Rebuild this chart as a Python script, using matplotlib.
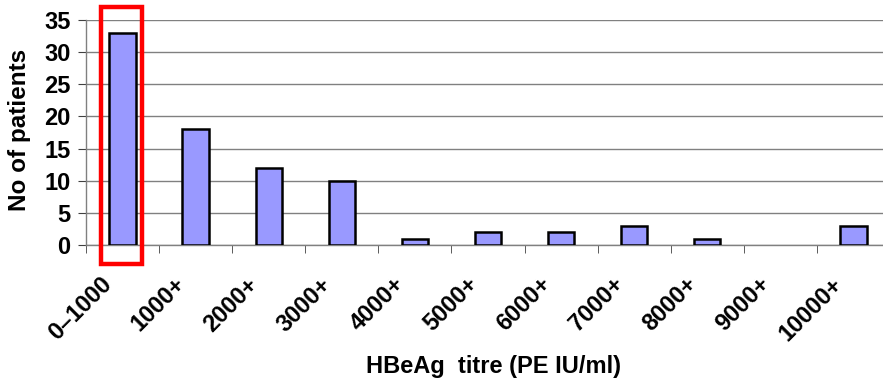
import matplotlib
matplotlib.use("Agg")
import matplotlib.pyplot as plt
from matplotlib.patches import Rectangle
from matplotlib.transforms import ScaledTranslation
import numpy as np

categories = ["0\u20131000", "1000+", "2000+", "3000+", "4000+", "5000+",
              "6000+", "7000+", "8000+", "9000+", "10000+"]
patients = [33, 18, 12, 10, 1, 2, 2, 3, 1, 0, 3]
yticks = [0, 5, 10, 15, 20, 25, 30, 35]

plt.rcParams['font.family'] = ['Liberation Sans', 'DejaVu Sans']

fig = plt.figure(figsize=(8.83, 3.80), dpi=100)
ax = fig.add_axes([86/883, 1-245/380, (890-86)/883, 225/380])

x = np.arange(len(categories))
edge_w = [1.8 if v > 0 else 0 for v in patients]
ax.bar(x, patients, width=0.36, color="#9999FF", edgecolor="black", linewidth=edge_w, zorder=3)

ax.set_xlim(-0.5, len(categories) - 0.5)
ax.set_ylim(0, 35)
ax.set_yticks(yticks)
ax.set_yticklabels([str(v) for v in yticks], fontsize=17, fontweight='bold')
ax.yaxis.grid(True, color="#808080", linewidth=1.0, zorder=0)
ax.tick_params(axis='y', length=6, color="#404040", pad=5)

ax.set_xticks(x)
ax.set_xticklabels(categories, rotation=45, ha='right', rotation_mode='anchor',
                   fontsize=17, fontweight='bold')
ax.tick_params(axis='x', which='major', length=0, pad=20)
offset = ScaledTranslation(-0.22, 0, fig.dpi_scale_trans)
for lbl in ax.get_xticklabels():
    lbl.set_transform(lbl.get_transform() + offset)
ax.set_xticks(np.arange(-0.5, len(categories)), minor=True)
ax.tick_params(axis='x', which='minor', length=6, color="#404040")

for s in ['top', 'right']:
    ax.spines[s].set_visible(False)
for s in ['left', 'bottom']:
    ax.spines[s].set_color("#808080")
    ax.spines[s].set_linewidth(1.0)

fig.text(20/883, 1-130/380, "No of patients", fontsize=17.5, fontweight='bold',
         rotation=90, ha='center', va='center')
fig.text(493/883, 1-366/380, "HBeAg  titre (PE IU/ml)", fontsize=17, fontweight='bold',
         ha='center', va='center')

rect = Rectangle((-0.30, -2.95), 0.56, 39.95, fill=False, edgecolor="red",
                 linewidth=3.2, clip_on=False, zorder=5)
ax.add_patch(rect)

fig.savefig("out.png", dpi=100)
